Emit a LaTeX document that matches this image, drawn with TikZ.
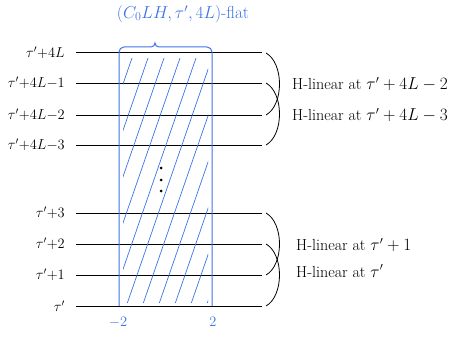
\documentclass[tikz,border=0pt]{standalone}
\usepackage{amsmath,amssymb}
\usepackage{xcolor}
\definecolor{flatblue}{HTML}{3C73E6}
\usepackage{tikz}
\usetikzlibrary{calc}

\begin{document}
\begin{tikzpicture}[x=1pt,y=-1pt,
  level/.style={line width=1pt,black},
  lvllab/.style={anchor=east,font=\fontsize{14}{16}\selectfont,inner sep=1pt},
  flatbox/.style={draw=flatblue,line width=1pt},
  hatch/.style={draw=flatblue,line width=0.7pt},
  linbracket/.style={line width=0.8pt,black},
  linlab/.style={anchor=west,font=\fontsize{16}{18}\selectfont,inner sep=1pt}]
\useasboundingbox (0,0) rectangle (460,337);
% time levels
\foreach \y/\t/\n in {53/{\tau'{+}4L}/a,83/{\tau'{+}4L{-}1}/b,115/{\tau'{+}4L{-}2}/c,145/{\tau'{+}4L{-}3}/d,
  213/{\tau'{+}3}/e,244/{\tau'{+}2}/f,275/{\tau'{+}1}/g,306/{\tau'}/h}{
  \draw[level] (76,\y) coordinate (lvl-\n-w) -- (262,\y) coordinate (lvl-\n-e);
  \node[lvllab] (lab-\n) at (66,\y) {$\t$};
}
% flat region
\coordinate (box-sw) at (119,306);
\coordinate (box-se) at (212,306);
\begin{scope}
\clip (123,58) rectangle (208,302);
\foreach \s in {20,36,...,300}
  \draw[hatch] (\s-85,304) -- (\s,58);
\end{scope}
\draw[flatbox] (box-sw) -- (119,52) to[out=90,in=180] (124,47) -- (151,47)
  to[out=0,in=-90] (155,43) to[out=-90,in=180] (159,47) -- (207,47)
  to[out=0,in=90] (212,52) -- (box-se);
\node[flatblue,font=\LARGE] (flat) at (183,14) {$(C_0LH,\tau',4L)$-flat};
\node[flatblue,font=\Large] (m2) at (118,322) {$-2$};
\node[flatblue,font=\Large] (p2) at (213,322) {$2$};
\foreach \y in {168,180,191}
  \fill (161,\y) circle (1.5);
% linearity brackets
\foreach \p/\q in {a/c,b/d,e/g,f/h}
  \draw[linbracket] ($(lvl-\p-e)+(4,0)$) .. controls ($(lvl-\p-e)+(22,10)$) and ($(lvl-\q-e)+(22,-10)$) .. ($(lvl-\q-e)+(4,0)$);
\node[linlab] (lin-c) at (291,84) {H-linear at $\tau'+4L-2$};
\node[linlab] (lin-d) at (291,115) {H-linear at $\tau'+4L-3$};
\node[linlab] (lin-g) at (295,245) {H-linear at $\tau'+1$};
\node[linlab] (lin-h) at (295,271) {H-linear at $\tau'$};
\end{tikzpicture}
\end{document}
